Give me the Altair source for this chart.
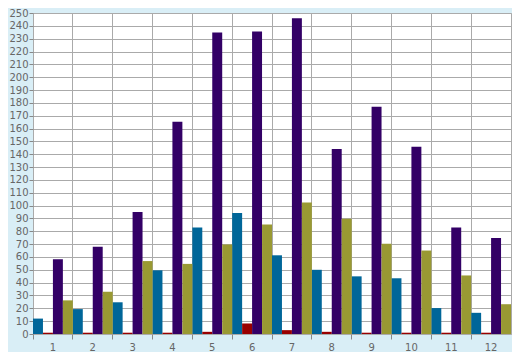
import altair as alt
import pandas as pd

groups = ["1", "2", "3", "4", "5", "6", "7", "8", "9", "10", "11", "12"]
series_names = ["Serie A", "Serie B", "Serie C", "Serie D"]
serie_a = [12, 19.4, 24.7, 49.6, 83, 94.2, 61.3, 50, 44.9, 43.4, 20.2, 16.5]
serie_b = [1.0, 1.0, 1.0, 1.0, 1.7, 8.2, 3, 1.7, 1.0, 1.0, 1.0, 1.0]
serie_c = [58.3, 68, 95, 165.3, 234.9, 235.6, 246, 144, 177, 145.8, 83, 74.8]
serie_d = [26.2, 32.9, 56.8, 54.6, 69.7, 85.3, 102.5, 89.7, 70.3, 65, 45.6, 23.2]
colors = ["#006699", "#990000", "#330066", "#999933"]
y_ticks = [0, 10, 20, 30, 40, 50, 60, 70, 80, 90, 100, 110, 120, 130, 140, 150,
           160, 170, 180, 190, 200, 210, 220, 230, 240, 250]

rows = []
for name, vals in zip(series_names, [serie_a, serie_b, serie_c, serie_d]):
    for g, v in zip(groups, vals):
        rows.append({"group": g, "series": name, "value": v})
df = pd.DataFrame(rows)

chart = alt.Chart(df).mark_bar().encode(
    x=alt.X("group:N", sort=groups,
            scale=alt.Scale(paddingInner=0, paddingOuter=0),
            axis=alt.Axis(title=None, labelAngle=0, bandPosition=0, grid=True,
                          gridColor="#aaaaaa", gridWidth=1, domain=False,
                          tickColor="#888888", tickSize=5, labelPadding=3,
                          labelColor="#666666", labelFontSize=10,
                          labelFont="DejaVu Sans")),
    xOffset=alt.XOffset("series:N", sort=series_names,
                        scale=alt.Scale(paddingInner=0, paddingOuter=0)),
    y=alt.Y("value:Q", scale=alt.Scale(domain=[0, 250], nice=False),
            axis=alt.Axis(title=None, values=y_ticks, grid=True,
                          gridColor="#aaaaaa", gridWidth=1, domain=False,
                          tickColor="#888888", tickSize=4, labelPadding=1,
                          labelColor="#666666", labelFontSize=10,
                          labelFont="DejaVu Sans")),
    color=alt.Color("series:N", sort=series_names,
                    scale=alt.Scale(domain=series_names, range=colors),
                    legend=None),
).properties(
    width=504, height=344,
    autosize=alt.AutoSizeParams(type="fit", contains="padding"),
    padding={"left": 0, "top": 0, "right": 1, "bottom": 0},
    background="#d9eef6",
).configure_view(stroke="#aaaaaa", fill="white")

chart.save("out.html", embed_options={"renderer": "svg", "actions": False})
